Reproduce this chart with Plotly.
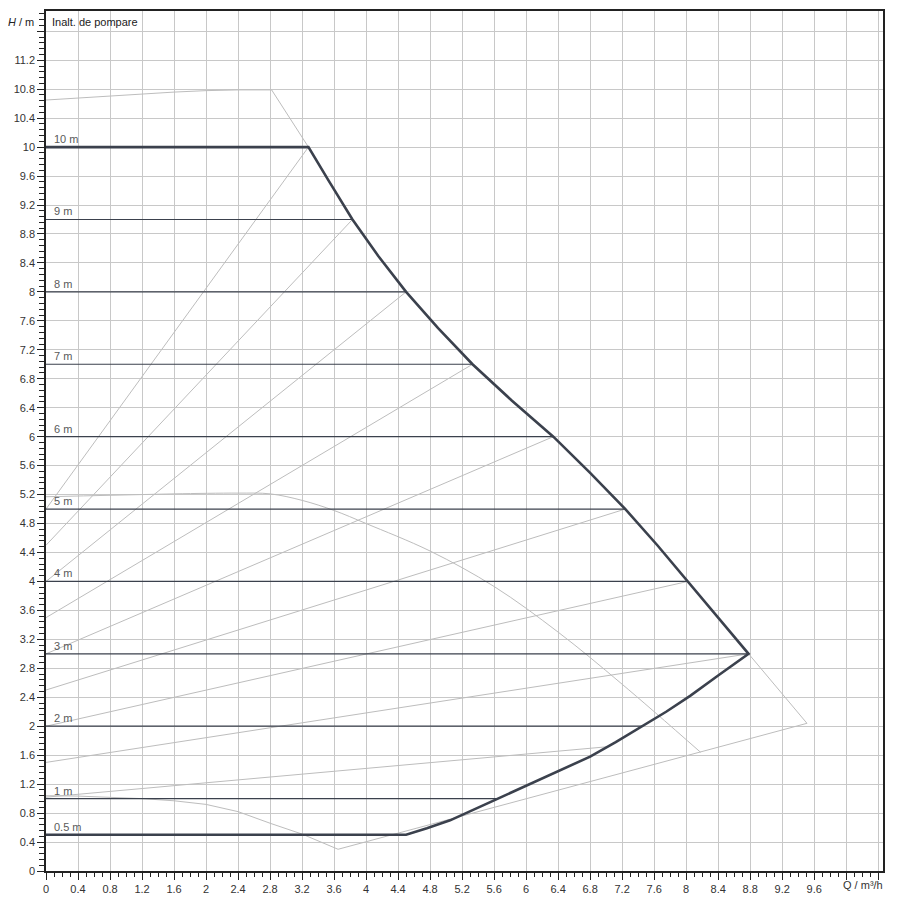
import plotly.graph_objects as go

# constant pressure levels (m) and flow where each meets the max curve (m3/h)
levels = [10, 9, 8, 7, 6, 5, 4, 3, 2, 1, 0.5]
level_q_end = [3.28, 3.83, 4.50, 5.33, 6.34, 7.24, 8.02, 8.78, 7.45, 5.63, 4.50]

# max curve (upper part) and lower limit curve
max_q = [3.28, 3.53, 3.83, 4.15, 4.50, 4.90, 5.33, 5.82, 6.34, 6.80, 7.24, 7.64, 8.02, 8.40, 8.78]
max_h = [10.0, 9.54, 9.0, 8.5, 8.0, 7.5, 7.0, 6.5, 6.0, 5.5, 5.0, 4.5, 4.0, 3.5, 3.0]
low_q = [8.78, 8.40, 8.05, 7.75, 7.45, 7.12, 6.80, 6.42, 6.05, 5.63, 5.32, 5.05, 4.76, 4.50]
low_h = [3.0, 2.70, 2.42, 2.20, 2.0, 1.78, 1.58, 1.39, 1.21, 1.0, 0.84, 0.70, 0.59, 0.5]

# light grey envelope
top_q = [0, 0.4, 0.8, 1.2, 1.6, 2.0, 2.4, 2.82]
top_h = [10.65, 10.68, 10.71, 10.74, 10.76, 10.78, 10.79, 10.79]
corner_q = [9.51, 3.65]
corner_h = [2.04, 0.30]
bottom_q = [3.65, 3.2, 2.8, 2.4, 2.0, 1.6, 1.2, 0.8, 0.4, 0]
bottom_h = [0.30, 0.51, 0.66, 0.82, 0.92, 0.97, 1.0, 1.02, 1.035, 1.04]

# hump curve (min speed)
hump_q = [0, 0.8, 1.6, 2.4, 2.8, 3.2, 3.6, 4.0, 4.8, 5.6, 6.4, 7.2, 8.18]
hump_h = [5.17, 5.19, 5.21, 5.22, 5.21, 5.12, 4.98, 4.80, 4.42, 3.93, 3.30, 2.58, 1.64]

# dp-v lines: start head at Q=0 and end point
dpv_start = [5.0, 4.5, 4.0, 3.5, 3.0, 2.5, 2.0, 1.5, 1.02]
dpv_end_q = [3.28, 3.83, 4.50, 5.33, 6.34, 7.24, 8.02, 8.78, 7.05]
dpv_end_h = [10, 9, 8, 7, 6, 5, 4, 3, 1.72]

x_ticks = [round(i * 0.4, 1) for i in range(27)]
x_labels = [f"{v:g}" for v in x_ticks[:25]] + ["", ""]
y_ticks = [round(i * 0.4, 1) for i in range(30)]
y_labels = [f"{v:g}" for v in y_ticks[:29]] + [""]

DARK = "#3b414d"
GREY = "#bdbdbd"

fig = go.Figure()

# envelope
env_q = top_q + max_q + corner_q + bottom_q
env_h = top_h + max_h + corner_h + bottom_h
fig.add_trace(go.Scatter(x=env_q, y=env_h, mode="lines",
                         line=dict(color=GREY, width=1), hoverinfo="skip"))
fig.add_trace(go.Scatter(x=hump_q, y=hump_h, mode="lines", line_shape="spline",
                         line=dict(color=GREY, width=1), hoverinfo="skip"))

for h0, qe, he in zip(dpv_start, dpv_end_q, dpv_end_h):
    fig.add_trace(go.Scatter(x=[0, qe], y=[h0, he], mode="lines",
                             line=dict(color=GREY, width=1), hoverinfo="skip"))

# constant pressure lines
for lvl, qe in zip(levels, level_q_end):
    fig.add_trace(go.Scatter(x=[0, qe], y=[lvl, lvl], mode="lines",
                             line=dict(color=DARK, width=1.2), hoverinfo="skip"))
    fig.add_annotation(x=0.08, y=lvl, xref="x", yref="y", text=f"{lvl:g} m",
                       showarrow=False, xanchor="left", yanchor="bottom",
                       font=dict(size=11, color="#5a5a5a"))

# thick operating range outline
fig.add_trace(go.Scatter(x=[0] + max_q + low_q[1:] + [0],
                         y=[10] + max_h + low_h[1:] + [0.5],
                         mode="lines", line=dict(color=DARK, width=2.6),
                         hoverinfo="skip"))

fig.add_annotation(x=0, y=1, xref="paper", yref="paper", text="Inalt. de pompare",
                   showarrow=False, xanchor="left", yanchor="top", xshift=4, yshift=-3,
                   font=dict(size=11, color="#222"))
fig.add_annotation(x=0, y=1, xref="paper", yref="paper", text="<i>H</i> / m",
                   showarrow=False, xanchor="right", yanchor="top", xshift=-10, yshift=-3,
                   font=dict(size=11, color="#222"))
fig.add_annotation(x=1, y=0, xref="paper", yref="paper", text="Q / m³/h",
                   showarrow=False, xanchor="right", yanchor="top", xshift=2, yshift=-6,
                   font=dict(size=11, color="#333"))

axis_common = dict(
    showgrid=True, gridcolor="#c8c8c8", gridwidth=1, zeroline=False,
    showline=True, linecolor="#222", linewidth=1.5, mirror=True,
    ticks="outside", tickcolor="#222", ticklen=7, tickwidth=1,
    tickmode="array", tickfont=dict(size=11, color="#333"), automargin=False,
)

# page body adds 8px, so the figure is 892 wide and margins are shifted
fig.update_layout(
    width=892, height=892,
    margin=dict(l=38, r=17, t=3, b=29),
    plot_bgcolor="white", paper_bgcolor="white",
    font=dict(family="Liberation Sans, Arial, sans-serif"),
    showlegend=False,
    xaxis=dict(axis_common, range=[0, 10.46], tickvals=x_ticks, ticktext=x_labels,
               minor=dict(tickmode="linear", tick0=0, dtick=0.1, ticklen=4,
                          tickcolor="#222", showgrid=False)),
    yaxis=dict(axis_common, range=[0, 11.88], tickvals=y_ticks, ticktext=y_labels,
               minor=dict(tickmode="linear", tick0=0, dtick=0.08, ticklen=5,
                          tickcolor="#222", showgrid=False)),
)

fig.write_html("out.html")
